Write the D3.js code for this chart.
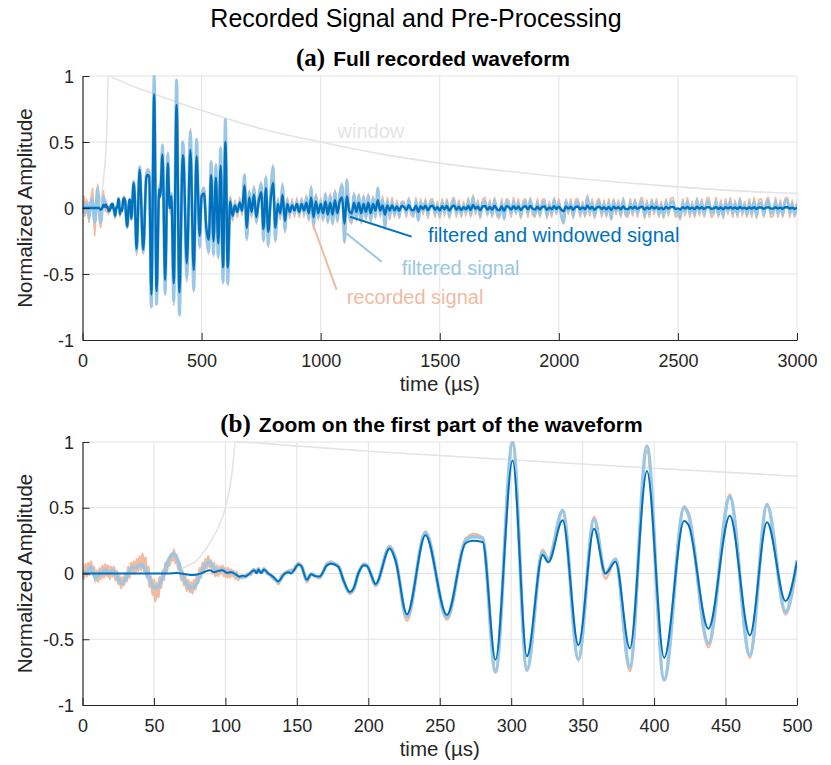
<!DOCTYPE html>
<html>
<head>
<meta charset="utf-8">
<script src="https://cdn.jsdelivr.net/npm/d3@7"></script>
<style>
	body { margin: 0; background: #fff; }
	svg { display: block; font-family: "Liberation Sans", Arial, sans-serif; }
</style>
</head>
<body>
<svg></svg>
<script>
// ---- data (time in µs, normalized amplitude) ----

const xTicksA = [0, 500, 1000, 1500, 2000, 2500, 3000]
const xTicksB = [0, 50, 100, 150, 200, 250, 300, 350, 400, 450, 500]
const yTicks = [-1, -0.5, 0, 0.5, 1]

// recorded signal, first 110 µs, one value per µs (noisy part)
const recordedEarly = [
	0.03, -0.04, 0.07, -0.02, 0.08, -0.01, 0.09, 0.0, 0.05, -0.06, 0.02,
	-0.06, 0.04, -0.04, 0.06, -0.03, 0.07, -0.02, 0.06, -0.04, 0.05,
	-0.02, 0.05, -0.05, 0.02, -0.08, -0.02, -0.11, -0.03, -0.09, 0.0,
	-0.06, 0.05, -0.03, 0.08, 0.0, 0.09, 0.0, 0.11, 0.02, 0.13,
	0.03, 0.15, 0.02, 0.12, -0.03, 0.05, -0.10, -0.02, -0.16, -0.05,
	-0.21, -0.07, -0.18, -0.03, -0.11, 0.02, -0.05, 0.08, 0.01, 0.11,
	0.06, 0.15, 0.10, 0.18, 0.08, 0.14, 0.03, 0.08, -0.05, 0.02,
	-0.09, -0.02, -0.13, -0.05, -0.14, -0.07, -0.15, -0.05, -0.12, -0.01,
	-0.07, 0.04, -0.03, 0.08, 0.01, 0.11, 0.04, 0.13, 0.05, 0.10,
	0.0, 0.08, -0.02, 0.06, -0.02, 0.05, 0.0, 0.06, -0.02, 0.04,
	-0.03, 0.04, -0.03, 0.03, -0.02, 0.02, -0.04, 0.01, -0.05, -0.02
]

// recorded signal, 112-500 µs, [time, value] at turning points
const recordedPts = [
	[112, -0.035], [114, -0.015], [116, 0], [118, -0.01], [120, 0.035], [121, 0.01], [123, 0.04], [125, 0.005],
	[127, 0.04], [129, 0], [131, -0.01], [134, -0.045], [136, -0.06], [137, -0.08], [139, -0.02], [141, 0],
	[144, 0.02], [148, 0.035], [151, 0.08], [153, 0.065], [155, 0], [157, -0.065], [160, 0], [163, -0.025],
	[166, -0.035], [171, 0.075], [174, 0.09], [177, 0.07], [179, 0.065], [183, -0.07], [187, -0.155], [190, -0.12],
	[193, 0], [197, 0.075], [199, 0.065], [202, -0.01], [205, -0.095], [215, 0.21], [219, 0.12], [227, -0.36],
	[240, 0.32], [255, -0.35], [268, 0.26], [274, 0.3], [280, 0.27], [289, -0.73], [301, 0.98], [311, -0.74],
	[322, 0.18], [326, 0.11], [336, 0.47], [347, -0.66], [358, 0.43], [366, -0.04], [373, 0.11], [383, -0.74],
	[395, 0.93], [407, -0.8], [421, 0.51], [424, 0.46], [438, -0.56], [453, 0.6], [467, -0.64], [479, 0.53],
	[492, -0.31], [500, 0.09]
]

// filtered signal, 0-500 µs, [time, value] at turning points
const filteredPts = [
	[0, 0], [3, 0.01], [6, 0.045], [9, -0.035], [12, -0.005], [16, 0.025], [19, 0.005], [21, 0.02],
	[24, -0.02], [27, -0.075], [30, -0.045], [34, 0.04], [38, 0.05], [41, 0.065], [44, 0.03], [47, -0.05],
	[51, -0.11], [54, -0.08], [57, 0], [61, 0.12], [64, 0.15], [67, 0.09], [70, -0.02], [73, -0.08],
	[76, -0.11], [79, -0.09], [83, 0], [87, 0.08], [89, 0.085], [92, 0.04], [95, 0.02], [98, 0.03],
	[101, 0.005], [104, 0.01], [107, -0.005], [110, -0.025], [114, -0.025], [117, 0], [120, 0.025], [122, 0.005],
	[123, 0.03], [125, 0.005], [127, 0.03], [130, 0], [134, -0.035], [137, -0.065], [141, -0.005], [144, 0.01],
	[148, 0.025], [151, 0.07], [153, 0.06], [157, -0.05], [160, -0.005], [163, -0.02], [166, -0.025], [171, 0.065],
	[174, 0.08], [179, 0.055], [183, -0.065], [187, -0.145], [190, -0.11], [193, 0], [197, 0.065], [199, 0.06],
	[202, -0.01], [205, -0.085], [215, 0.2], [219, 0.11], [227, -0.33], [240, 0.31], [255, -0.335], [268, 0.25],
	[273, 0.28], [280, 0.27], [289, -0.75], [301, 1.0], [311, -0.73], [322, 0.16], [326, 0.1], [336, 0.48],
	[347, -0.65], [358, 0.41], [366, 0], [373, 0.11], [383, -0.71], [395, 0.97], [407, -0.81], [421, 0.5],
	[424, 0.45], [438, -0.53], [453, 0.58], [467, -0.62], [479, 0.52], [492, -0.29], [500, 0.1]
]

// filtered and windowed signal, 0-500 µs
const windowedPts = [
	[0, 0], [60, 0], [66, 0.003], [72, -0.005], [77, -0.012], [82, -0.003], [86, 0.015], [89, 0.025],
	[92, 0.01], [95, 0.02], [98, 0.025], [101, 0.005], [104, 0.01], [107, -0.005], [110, -0.025], [112, -0.015],
	[114, -0.022], [117, 0], [120, 0.025], [122, 0.003], [123, 0.03], [125, 0.003], [127, 0.03], [130, 0],
	[132, -0.012], [134, -0.03], [137, -0.06], [141, -0.005], [144, 0.01], [146, 0.0], [148, 0.025], [151, 0.068],
	[153, 0.058], [157, -0.048], [160, -0.005], [163, -0.02], [166, -0.022], [171, 0.062], [174, 0.075], [179, 0.052],
	[183, -0.062], [187, -0.14], [190, -0.105], [193, 0], [197, 0.062], [199, 0.058], [202, -0.01], [205, -0.08],
	[215, 0.19], [219, 0.1], [227, -0.31], [240, 0.29], [255, -0.315], [268, 0.23], [273, 0.25], [280, 0.24],
	[289, -0.655], [301, 0.86], [311, -0.63], [322, 0.14], [326, 0.085], [336, 0.405], [347, -0.545], [358, 0.34],
	[366, 0], [373, 0.09], [383, -0.57], [395, 0.78], [407, -0.64], [421, 0.4], [424, 0.37], [438, -0.42],
	[453, 0.44], [467, -0.47], [479, 0.39], [492, -0.21], [500, 0.09]
]

// rest of the full waveform, 510-3000 µs, one value every 10 µs
const tailStart = 500
const tailStep = 10

const recordedTail = [
	0.16, -0.22, -0.35, 0.36, -0.37, 0.34, -0.39, 0.47, -0.58, 0.66,
	-0.59, 0.09, -0.10, 0.06, -0.07, 0.08, -0.06, 0.26, -0.25, 0.14,
	-0.08, 0.17, -0.12, 0.09, 0.20, -0.26, 0.25, -0.30, 0.12, 0.33,
	-0.26, 0.08, -0.09, 0.19, -0.19, 0.08, -0.08, 0.07, -0.07, 0.08,
	-0.07, 0.08, -0.07, 0.10, -0.10, 0.17, -0.16, 0.11, -0.09, 0.08,
	-0.10, 0.12, -0.12, 0.11, -0.13, 0.14, -0.11, 0.12, 0.19, -0.27,
	0.22, -0.08, -0.12, 0.12, -0.10, 0.11, -0.12, 0.10, -0.09, 0.11,
	-0.11, 0.09, -0.08, 0.16, -0.07, 0.09, -0.16, 0.08, -0.09, 0.08,
	-0.07, 0.06, -0.08, 0.05, 0.05, -0.07, 0.08, -0.05, -0.07, 0.08,
	-0.10, 0.07, -0.05, 0.07, -0.08, 0.06, 0.07, -0.07, 0.05, -0.08,
	0.07, -0.06, 0.07, -0.08, 0.05, 0.08, -0.07, 0.06, -0.07, 0.05,
	-0.06, 0.08, -0.07, 0.10, -0.05, 0.06, -0.08, 0.06, 0.08, -0.06,
	0.06, -0.07, 0.08, -0.06, -0.08, 0.07, -0.09, 0.07, 0.05, -0.07,
	0.08, -0.05, 0.07, -0.08, 0.05, 0.07, -0.07, 0.08, -0.05, -0.07,
	0.07, -0.07, 0.06, 0.07, -0.08, 0.05, -0.07, 0.08, -0.05, 0.07,
	-0.07, -0.12, 0.07, -0.05, 0.07, -0.08, 0.06, 0.07, -0.07, 0.05,
	-0.07, 0.10, -0.06, 0.07, -0.08, 0.05, 0.07, -0.07, 0.06, -0.07,
	0.07, -0.09, 0.07, -0.05, 0.06, -0.07, 0.08, -0.06, -0.07, 0.07,
	-0.06, 0.07, -0.07, 0.05, 0.08, -0.08, 0.06, -0.07, 0.07, -0.05,
	0.07, -0.07, 0.05, -0.08, 0.07, -0.06, 0.07, 0.08, -0.07, -0.05,
	-0.09, 0.07, -0.06, 0.08, -0.07, 0.05, -0.07, 0.08, -0.06, 0.07,
	-0.07, 0.06, 0.08, -0.07, -0.05, 0.08, -0.07, 0.06, -0.08, 0.07,
	-0.05, 0.08, -0.07, 0.06, -0.07, 0.08, -0.06, 0.05, -0.07, 0.07,
	-0.07, 0.08, -0.08, 0.06, 0.07, -0.07, 0.05, 0.08, -0.07, -0.06,
	0.08, -0.07, 0.06, -0.07, 0.07, 0.08, -0.07, 0.06, -0.07, 0.05
]

const filteredTail = [
	0.15, -0.20, -0.33, 0.35, -0.35, 0.32, -0.37, 0.45, -0.56, 0.67,
	-0.57, 0.07, -0.08, 0.03, -0.04, 0.05, -0.03, 0.25, -0.23, 0.12,
	-0.05, 0.15, -0.10, 0.07, 0.18, -0.24, 0.23, -0.28, 0.10, 0.31,
	-0.24, 0.05, -0.06, 0.17, -0.17, 0.06, -0.05, 0.04, -0.04, 0.05,
	-0.05, 0.06, -0.04, 0.08, -0.08, 0.15, -0.13, 0.09, -0.07, 0.05,
	-0.08, 0.10, -0.10, 0.09, -0.11, 0.12, -0.09, 0.10, 0.17, -0.25,
	0.21, -0.05, -0.10, 0.10, -0.08, 0.09, -0.10, 0.08, -0.07, 0.09,
	-0.09, 0.07, -0.06, 0.15, -0.05, 0.06, -0.14, 0.05, -0.06, 0.05,
	-0.05, 0.03, -0.06, 0.04, 0.02, -0.04, 0.06, -0.03, -0.05, 0.05,
	-0.09, 0.04, -0.02, 0.05, -0.05, 0.03, 0.05, -0.04, 0.02, -0.06,
	0.04, -0.03, 0.05, -0.06, 0.02, 0.06, -0.04, 0.03, -0.05, 0.02,
	-0.03, 0.05, -0.05, 0.08, -0.02, 0.03, -0.06, 0.04, 0.05, -0.04,
	0.03, -0.05, 0.06, -0.03, -0.06, 0.04, -0.08, 0.05, 0.02, -0.04,
	0.05, -0.03, 0.04, -0.06, 0.02, 0.05, -0.04, 0.06, -0.02, -0.05,
	0.04, -0.05, 0.03, 0.05, -0.06, 0.02, -0.04, 0.06, -0.03, 0.04,
	-0.05, -0.11, 0.05, -0.02, 0.04, -0.06, 0.03, 0.05, -0.04, 0.02,
	-0.05, 0.08, -0.03, 0.04, -0.06, 0.02, 0.05, -0.04, 0.03, -0.05,
	0.04, -0.08, 0.05, -0.02, 0.03, -0.05, 0.06, -0.03, -0.05, 0.04,
	-0.03, 0.05, -0.04, 0.02, 0.05, -0.06, 0.03, -0.04, 0.05, -0.02,
	0.04, -0.05, 0.02, -0.06, 0.05, -0.03, 0.04, 0.05, -0.04, -0.02,
	-0.07, 0.04, -0.03, 0.05, -0.04, 0.02, -0.05, 0.06, -0.03, 0.04,
	-0.05, 0.03, 0.05, -0.04, -0.02, 0.05, -0.05, 0.03, -0.06, 0.04,
	-0.02, 0.05, -0.04, 0.03, -0.05, 0.06, -0.03, 0.02, -0.05, 0.04,
	-0.04, 0.05, -0.06, 0.03, 0.04, -0.05, 0.02, 0.06, -0.04, -0.03,
	0.05, -0.04, 0.03, -0.05, 0.05, 0.06, -0.04, 0.03, -0.05, 0.03
]

const windowedTail = [
	0.11, -0.15, -0.24, 0.25, -0.25, 0.23, -0.27, 0.32, -0.45, 0.50,
	-0.45, 0.05, -0.06, 0.02, -0.03, 0.04, -0.02, 0.17, -0.15, 0.08,
	-0.03, 0.10, -0.07, 0.05, 0.12, -0.16, 0.15, -0.18, 0.06, 0.19,
	-0.15, 0.03, -0.04, 0.10, -0.10, 0.03, -0.03, 0.02, -0.02, 0.03,
	-0.03, 0.03, -0.02, 0.04, -0.04, 0.08, -0.07, 0.05, -0.04, 0.03,
	-0.04, 0.05, -0.05, 0.04, -0.05, 0.06, -0.04, 0.05, 0.08, -0.12,
	0.09, -0.02, -0.04, 0.04, -0.03, 0.04, -0.04, 0.03, -0.03, 0.04,
	-0.04, 0.03, -0.02, 0.06, -0.02, 0.02, -0.05, 0.02, -0.02, 0.02,
	-0.018, 0.011, -0.022, 0.015, 0.007, -0.015, 0.022, -0.011, -0.018, 0.018,
	-0.03, 0.014, -0.007, 0.017, -0.017, 0.01, 0.017, -0.014, 0.007, -0.02,
	0.013, -0.01, 0.016, -0.02, 0.007, 0.019, -0.013, 0.01, -0.016, 0.006,
	-0.009, 0.015, -0.015, 0.024, -0.006, 0.009, -0.018, 0.012, 0.015, -0.012,
	0.008, -0.014, 0.017, -0.008, -0.017, 0.011, -0.022, 0.014, 0.006, -0.011,
	0.013, -0.008, 0.011, -0.016, 0.005, 0.013, -0.01, 0.015, -0.005, -0.012,
	0.01, -0.012, 0.007, 0.012, -0.014, 0.005, -0.01, 0.014, -0.007, 0.01,
	-0.012, -0.025, 0.011, -0.005, 0.009, -0.014, 0.007, 0.011, -0.009, 0.005,
	-0.01, 0.017, -0.006, 0.008, -0.013, 0.004, 0.01, -0.008, 0.006, -0.01,
	0.008, -0.015, 0.01, -0.004, 0.006, -0.01, 0.011, -0.006, -0.009, 0.008,
	-0.005, 0.009, -0.007, 0.004, 0.009, -0.011, 0.005, -0.007, 0.009, -0.004,
	0.007, -0.008, 0.003, -0.01, 0.008, -0.005, 0.007, 0.008, -0.007, -0.003,
	-0.011, 0.006, -0.005, 0.008, -0.006, 0.003, -0.008, 0.009, -0.005, 0.006,
	-0.007, 0.004, 0.007, -0.006, -0.003, 0.007, -0.007, 0.004, -0.009, 0.006,
	-0.003, 0.007, -0.005, 0.004, -0.007, 0.008, -0.004, 0.003, -0.007, 0.005,
	-0.005, 0.006, -0.007, 0.004, 0.005, -0.006, 0.002, 0.007, -0.005, -0.004,
	0.006, -0.004, 0.003, -0.006, 0.006, 0.007, -0.004, 0.003, -0.006, 0.003
]

// window function
const windowPts = [
	[0, 0], [60, 0], [66, 0.01], [70, 0.04], [80, 0.1], [90, 0.25], [95, 0.35], [100, 0.5],
	[103, 0.65], [105, 0.8], [107, 1.0], [150, 0.97], [200, 0.93], [300, 0.865], [400, 0.8], [500, 0.74],
	[750, 0.6], [1000, 0.5], [1250, 0.41], [1500, 0.34], [1750, 0.285], [2000, 0.237], [2250, 0.195],
	[2500, 0.16], [2750, 0.13], [3000, 0.11]
]

// labels in panel (a): text, anchor point, leader start, leader end
const labelNames = ["window", "recorded signal", "filtered signal", "filtered and windowed signal"]
const labelAt = [[1071, 0.528], [1109, -0.73], [1340, -0.508], [1451, -0.258]]
const leaderFrom = [null, [966, -0.116], [1106, -0.19], [1123, -0.066]]
const leaderTo = [null, [1067, -0.62], [1256, -0.407], [1382, -0.217]]

// ---- build series ----
const recordedB = recordedEarly.map((v, i) => [i, v]).concat(recordedPts)
const tailTime = (i) => tailStart + (i + 1) * tailStep
const recordedA = recordedB.concat(recordedTail.map((v, i) => [tailTime(i), v]))
const filteredA = filteredPts.concat(filteredTail.map((v, i) => [tailTime(i), v]))
const windowedA = windowedPts.concat(windowedTail.map((v, i) => [tailTime(i), v]))

const colors = {
	recorded: "#f0baa3",
	filtered: "#99c7e5",
	windowed: "#0072bd",
	window: "#e4e4e4",
	axis: "#262626",
	grid: "#e3e3e3"
}

const svg = d3.select("svg")
	.attr("width", 831)
	.attr("height", 765)

svg.append("text")
	.attr("x", 416)
	.attr("y", 27)
	.attr("text-anchor", "middle")
	.style("font-size", "25px")
	.attr("fill", "#000")
	.text("Recorded Signal and Pre-Processing")

const left = 82.5
const right = 797

const panels = [
	{
		id: "a", top: 76, bottom: 340, xMax: 3000, xTicks: xTicksA,
		tag: "(a)", title: "Full recorded waveform", titleX: 433,
		recorded: recordedA, filtered: filteredA, windowed: windowedA,
		widths: [2, 3, 2.4], labels: true
	},
	{
		id: "b", top: 442, bottom: 705, xMax: 500, xTicks: xTicksB,
		tag: "(b)", title: "Zoom on the first part of the waveform", titleX: 431.5,
		recorded: recordedB, filtered: filteredPts, windowed: windowedPts,
		widths: [2.8, 3.5, 2], labels: false
	}
]

panels.forEach((p) => {
	const x = d3.scaleLinear().domain([0, p.xMax]).range([left, right])
	const y = d3.scaleLinear().domain([-1, 1]).range([p.bottom, p.top])

	const g = svg.append("g").attr("class", "panel-" + p.id)

	// grid
	g.append("g")
		.selectAll("line")
		.data(p.xTicks.slice(1))
		.enter()
		.append("line")
		.attr("x1", (d) => x(d))
		.attr("x2", (d) => x(d))
		.attr("y1", p.top)
		.attr("y2", p.bottom)
		.attr("stroke", colors.grid)
	g.append("g")
		.selectAll("line")
		.data(yTicks.slice(1))
		.enter()
		.append("line")
		.attr("x1", left)
		.attr("x2", right)
		.attr("y1", (d) => y(d))
		.attr("y2", (d) => y(d))
		.attr("stroke", colors.grid)

	g.append("clipPath")
		.attr("id", "clip-" + p.id)
		.append("rect")
		.attr("x", left)
		.attr("y", p.top - 1)
		.attr("width", right - left)
		.attr("height", p.bottom - p.top + 1)

	const plot = g.append("g").attr("clip-path", `url(#clip-${p.id})`)

	const line = d3.line()
		.x((d) => x(d[0]))
		.y((d) => y(d[1]))
		.curve(d3.curveMonotoneX)

	plot.append("path")
		.datum(windowPts.filter((d) => d[0] <= p.xMax + 250))
		.attr("d", line)
		.attr("fill", "none")
		.attr("stroke", colors.window)
		.attr("stroke-width", 1.6)

	const series = [
		[p.recorded, colors.recorded, p.widths[0]],
		[p.filtered, colors.filtered, p.widths[1]],
		[p.windowed, colors.windowed, p.widths[2]]
	]
	series.forEach((s) => {
		plot.append("path")
			.datum(s[0])
			.attr("d", line)
			.attr("fill", "none")
			.attr("stroke", s[1])
			.attr("stroke-width", s[2])
			.attr("stroke-linejoin", "round")
	})

	// axes, ticks inward like MATLAB
	const xAxis = g.append("g")
		.attr("transform", `translate(0, ${p.bottom})`)
		.call(d3.axisBottom(x).tickValues(p.xTicks).tickSizeInner(-7).tickSizeOuter(0).tickPadding(14).tickFormat((d) => d))
	const yAxis = g.append("g")
		.attr("transform", `translate(${left}, 0)`)
		.call(d3.axisLeft(y).tickValues(yTicks).tickSizeInner(-7).tickSizeOuter(0).tickPadding(8.5).tickFormat((d) => d))

	;[xAxis, yAxis].forEach((a) => {
		a.attr("font-family", null).attr("font-size", null)
		a.select(".domain").attr("stroke", colors.axis).attr("stroke-width", 1.2)
		a.selectAll(".tick line").attr("stroke", colors.axis).attr("stroke-width", 1)
		a.selectAll(".tick text").attr("fill", colors.axis).style("font-size", "18px")
	})
	yAxis.selectAll(".tick text").attr("dy", "0.34em")

	g.append("text")
		.attr("x", (left + right) / 2)
		.attr("y", p.bottom + 51)
		.attr("text-anchor", "middle")
		.attr("fill", colors.axis)
		.style("font-size", "20.5px")
		.text("time (µs)")

	g.append("text")
		.attr("transform", `translate(32, ${(p.top + p.bottom) / 2}) rotate(-90)`)
		.attr("text-anchor", "middle")
		.attr("fill", colors.axis)
		.style("font-size", "20.5px")
		.text("Normalized Amplitude")

	const title = g.append("text")
		.attr("x", p.titleX)
		.attr("y", p.top - 10)
		.attr("text-anchor", "middle")
		.attr("fill", "#000")
	title.append("tspan")
		.style("font-family", "'Liberation Serif', 'Times New Roman', serif")
		.style("font-weight", "bold")
		.style("font-size", "25px")
		.text(p.tag)
	title.append("tspan")
		.attr("dx", 8)
		.style("font-weight", "bold")
		.style("font-size", "21px")
		.text(p.title)

	if (p.labels) {
		const labelColors = [colors.window, colors.recorded, colors.filtered, colors.windowed]
		labelNames.forEach((name, i) => {
			if (leaderFrom[i]) {
				g.append("line")
					.attr("x1", x(leaderFrom[i][0]))
					.attr("y1", y(leaderFrom[i][1]))
					.attr("x2", x(leaderTo[i][0]))
					.attr("y2", y(leaderTo[i][1]))
					.attr("stroke", labelColors[i])
					.attr("stroke-width", 2)
			}
			g.append("text")
				.attr("x", x(labelAt[i][0]))
				.attr("y", y(labelAt[i][1]))
				.attr("fill", labelColors[i])
				.style("font-size", "20px")
				.text(name)
		})
	}
})
</script>
</body>
</html>
